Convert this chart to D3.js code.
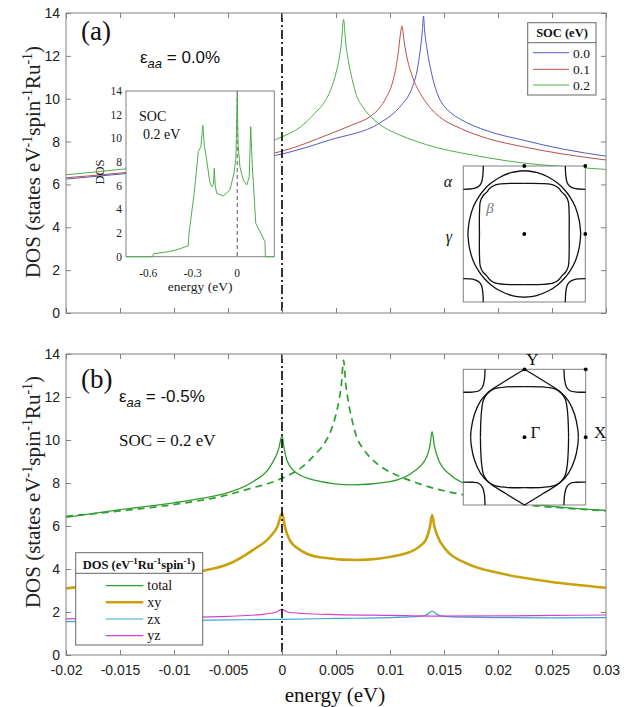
<!DOCTYPE html>
<html><head><meta charset="utf-8">
<script src="https://cdn.jsdelivr.net/npm/d3@7"></script>
<style>body{margin:0;background:#fff}</style>
</head><body><svg id="c" width="635" height="707"></svg>
<script>
// ---------------- data ----------------
const energyTicks = [-0.02,-0.015,-0.01,-0.005,0,0.005,0.01,0.015,0.02,0.025,0.03];
const energyTickLabels = ["-0.02","-0.015","-0.01","-0.005","0","0.005","0.01","0.015","0.02","0.025","0.03"];
const dosTicks = [0,2,4,6,8,10,12,14];
const socLegend = ["0.0","0.1","0.2"];
const orbitalLegend = ["total","xy","zx","yz"];
const insetTicks = [-0.6,-0.3,0];
const insetTickLabels = ["-0.6","-0.3","0"];

// panel (a): DOS vs energy for SOC = 0.0, 0.1, 0.2 eV (unstrained)
const soc00 = [[-0.02,6.25],[-0.015,6.48],[-0.01,6.72],[-0.005,7.02],[0,7.42],[0.0044,8.07],[0.0091,8.88],[0.0105,9.4],[0.0112,9.79],[0.0118,10.22],[0.0122,10.72],[0.0125,11.3],[0.0128,12.27],[0.013,13.2],[0.0131,13.86],[0.0132,13.2],[0.0134,12.4],[0.0138,11.3],[0.0143,10.35],[0.0148,9.8],[0.0155,9.4],[0.0165,9.05],[0.019,8.5],[0.0223,8.07],[0.026,7.65],[0.03,7.32]];
const soc01 = [[-0.02,6.31],[-0.015,6.53],[-0.01,6.8],[-0.005,7.12],[0,7.55],[0.0044,8.35],[0.0065,8.78],[0.0082,9.18],[0.009,9.55],[0.0097,10.1],[0.0102,10.7],[0.0106,11.6],[0.0108,12.3],[0.011,13.15],[0.0111,13.4],[0.0113,12.7],[0.0115,12.1],[0.0121,11.0],[0.0128,10.25],[0.0136,9.65],[0.0146,9.15],[0.0165,8.62],[0.019,8.15],[0.0223,7.76],[0.026,7.42],[0.03,7.14]];
const soc02 = [[-0.02,6.45],[-0.015,6.7],[-0.01,7.0],[-0.005,7.45],[-0.0027,7.78],[-0.001,8.02],[0,8.22],[0.0017,8.68],[0.003,9.3],[0.004,9.9],[0.0045,10.4],[0.005,11.2],[0.0053,11.9],[0.0055,12.6],[0.0057,13.7],[0.0059,12.6],[0.0061,11.9],[0.0065,10.9],[0.0069,10.15],[0.0075,9.6],[0.0083,9.12],[0.0095,8.65],[0.0107,8.35],[0.0125,8.0],[0.0143,7.72],[0.0165,7.48],[0.019,7.25],[0.0223,7.0],[0.026,6.84],[0.03,6.7]];

// inset of (a): wide-range DOS, SOC 0.2 eV
const insetDos = [[-0.75,0],[-0.57,0],[-0.565,0.25],[-0.45,0.45],[-0.38,0.7],[-0.33,0.93],[-0.325,1.97],[-0.29,5.4],[-0.262,8.9],[-0.245,9.3],[-0.232,11.1],[-0.222,9.4],[-0.206,8.17],[-0.185,6.3],[-0.172,5.92],[-0.16,6.1],[-0.155,7.47],[-0.148,6.0],[-0.139,5.36],[-0.094,5.13],[-0.049,5.64],[-0.022,7.05],[-0.009,8.32],[0,13.67],[0.006,9.5],[0.018,7.6],[0.041,6.48],[0.064,6.06],[0.081,6.76],[0.091,10.99],[0.102,7.6],[0.125,2.82],[0.154,2.11],[0.187,1.27],[0.19,0],[0.25,0]];

// panel (b): strain -0.5 %, SOC 0.2 eV
const total = [[-0.02,6.4],[-0.015,6.76],[-0.01,7.08],[-0.0075,7.28],[-0.005,7.55],[-0.0027,8.06],[-0.0011,8.76],[-0.0003,9.6],[0,10.2],[0.0002,9.6],[0.0005,9.0],[0.0014,8.45],[0.0032,8.11],[0.0066,7.91],[0.01,8.06],[0.0122,8.53],[0.0134,9.22],[0.0137,9.75],[0.0139,10.39],[0.0141,9.75],[0.0145,9.07],[0.0156,8.37],[0.0168,7.99],[0.019,7.55],[0.021,7.25],[0.023,7.03],[0.026,6.87],[0.03,6.72]];
const xy = [[-0.02,3.1],[-0.015,3.38],[-0.01,3.68],[-0.0073,3.92],[-0.005,4.22],[-0.0027,4.88],[-0.0011,5.5],[-0.0004,6.0],[0,6.59],[0.0003,5.9],[0.0007,5.35],[0.0017,4.88],[0.0035,4.55],[0.0069,4.42],[0.0109,4.65],[0.0131,5.2],[0.0137,5.97],[0.0139,6.51],[0.0141,6.0],[0.0143,5.66],[0.0152,4.88],[0.0171,4.26],[0.0202,3.8],[0.0248,3.41],[0.03,3.13]];
const zx = [[-0.02,1.55],[-0.01,1.6],[-0.005,1.63],[0,1.66],[0.005,1.7],[0.01,1.74],[0.0128,1.8],[0.0135,1.9],[0.0139,2.04],[0.0143,1.9],[0.015,1.8],[0.017,1.76],[0.02,1.74],[0.025,1.73],[0.03,1.74]];
const yz = [[-0.02,1.68],[-0.01,1.74],[-0.005,1.8],[-0.002,1.88],[-0.0005,2.0],[0,2.12],[0.0005,2.0],[0.002,1.93],[0.005,1.88],[0.01,1.84],[0.0139,1.81],[0.02,1.82],[0.025,1.84],[0.03,1.86]];

// Fermi-surface sheets (one quadrant, k in units of the zone half-width)
const fsA_gamma = [[0,0.93],[-0.2,0.905],[-0.4,0.835],[-0.55,0.745],[-0.655,0.655],[-0.745,0.55],[-0.835,0.4],[-0.9,0.2],[-0.925,0]];
const fsA_beta  = [[0,0.745],[-0.3,0.742],[-0.48,0.72],[-0.57,0.67],[-0.615,0.615],[-0.67,0.57],[-0.72,0.48],[-0.735,0.3],[-0.735,0]];
const fsA_alpha = [[-0.672,1],[-0.68,0.86],[-0.7,0.76],[-0.74,0.705],[-0.82,0.67],[-1,0.657]];
const fsB_gamma = [[0,1],[-0.3,0.835],[-0.583,0.67],[-0.72,0.53],[-0.82,0.33],[-0.87,0.12],[-0.88,0]];
const fsB_beta  = [[0,0.745],[-0.3,0.74],[-0.5,0.71],[-0.61,0.64],[-0.67,0.55],[-0.7,0.4],[-0.715,0.2],[-0.72,0]];
const fsB_alpha = [[-0.645,1],[-0.655,0.85],[-0.686,0.74],[-0.75,0.68],[-0.85,0.665],[-1,0.662]];

// ---------------- drawing ----------------
const serif = "'Liberation Serif','Times New Roman',serif";
const sans = "'Liberation Sans',Arial,sans-serif";
const axisCol = "#808080";
const svg = d3.select("#c");
const defs = svg.append("defs");

const x = d3.scaleLinear().domain([-0.02,0.03]).range([66,606]);
const yA = d3.scaleLinear().domain([0,14]).range([313,13]);
const yB = d3.scaleLinear().domain([0,14]).range([655,354]);

function clip(id, y){
  defs.append("clipPath").attr("id",id).append("rect")
    .attr("x",x.range()[0]).attr("y",y.range()[1])
    .attr("width",x.range()[1]-x.range()[0]).attr("height",y.range()[0]-y.range()[1]);
}
clip("clipA", yA); clip("clipB", yB);

function styleAxis(g){
  g.select(".domain").remove();
  g.selectAll("line").attr("stroke",axisCol);
  g.selectAll("text").attr("font-family",sans).attr("font-size",14).attr("fill","#222");
}
function frame(y, showX){
  const top = y.range()[1], bot = y.range()[0];
  svg.append("g").attr("transform","translate(66,0)")
    .call(d3.axisLeft(y).tickValues(dosTicks).tickSize(-5).tickPadding(6).tickFormat(d3.format("d"))).call(styleAxis);
  svg.append("g").attr("transform","translate(606,0)")
    .call(d3.axisRight(y).tickValues(dosTicks).tickSize(-5).tickFormat("")).call(styleAxis);
  svg.append("g").attr("transform",`translate(0,${bot})`)
    .call(d3.axisBottom(x).tickValues(energyTicks).tickSize(-5).tickPadding(10)
      .tickFormat((d,i)=> showX ? energyTickLabels[i] : "")).call(styleAxis);
  svg.append("g").attr("transform",`translate(0,${top})`)
    .call(d3.axisTop(x).tickValues(energyTicks).tickSize(-5).tickFormat("")).call(styleAxis);
  svg.append("rect").attr("x",66).attr("y",top).attr("width",540).attr("height",bot-top)
    .attr("fill","none").attr("stroke",axisCol).attr("stroke-width",1);
}
function curve(y, data, clipId, col, w, dash){
  const line = d3.line().x(d=>x(d[0])).y(d=>y(d[1])).curve(d3.curveMonotoneX);
  const p = svg.append("path").attr("d",line(data)).attr("fill","none")
    .attr("stroke",col).attr("stroke-width",w).attr("clip-path",`url(#${clipId})`)
    .attr("stroke-linejoin","round");
  if(dash) p.attr("stroke-dasharray",dash);
  return p;
}
function fermiLine(y){
  svg.append("line").attr("x1",x(0)).attr("x2",x(0)).attr("y1",y(14)).attr("y2",y(0))
    .attr("stroke","#000").attr("stroke-width",1.6).attr("stroke-dasharray","9,3,2,3");
}
function yTitle(cy){
  const t = svg.append("text").attr("transform",`translate(40,${cy}) rotate(-90)`)
    .attr("text-anchor","middle").attr("font-family",serif).attr("font-size",21).attr("fill","#222");
  t.append("tspan").text("DOS (states eV");
  t.append("tspan").attr("dy",-8).attr("font-size",14).text("-1");
  t.append("tspan").attr("dy",8).text("spin");
  t.append("tspan").attr("dy",-8).attr("font-size",14).text("-1");
  t.append("tspan").attr("dy",8).text("Ru");
  t.append("tspan").attr("dy",-8).attr("font-size",14).text("-1");
  t.append("tspan").attr("dy",8).text(")");
}
function epsText(xp, yp, val){
  const t = svg.append("text").attr("x",xp).attr("y",yp).attr("font-family",sans).attr("font-size",17).attr("fill","#111");
  t.append("tspan").text("ε");
  t.append("tspan").attr("dy",5).attr("font-size",13).attr("font-style","italic").text("aa");
  t.append("tspan").attr("dy",-5).text(" = " + val);
}
function fermiSurface(fx, fy, sheets, dots){
  svg.append("rect").attr("x",fx(-1)).attr("y",fy(1)).attr("width",fx(1)-fx(-1)).attr("height",fy(-1)-fy(1))
    .attr("fill","#fff").attr("stroke",axisCol).attr("stroke-width",1);
  const line = d3.line().x(d=>fx(d[0])).y(d=>fy(d[1])).curve(d3.curveCatmullRom.alpha(0.5));
  sheets.forEach(pts=>{
    [[1,1],[-1,1],[-1,-1],[1,-1]].forEach(([sx,sy])=>{
      const q = pts.map(([a,b])=>[-sx*a, sy*b]);
      svg.append("path").attr("d",line(q)).attr("fill","none").attr("stroke","#111").attr("stroke-width",1.3);
    });
  });
  dots.forEach(([a,b])=> svg.append("circle").attr("cx",fx(a)).attr("cy",fy(b)).attr("r",1.9).attr("fill","#000"));
}

// ======= Panel (a) =======
curve(yA, soc00, "clipA", "#5459c4", 1);
curve(yA, soc01, "clipA", "#b84f4e", 1);
curve(yA, soc02, "clipA", "#4daf4a", 1);
fermiLine(yA);
frame(yA, false);

svg.append("text").attr("x",81).attr("y",40).attr("font-family",serif).attr("font-size",27).attr("fill","#111").text("(a)");
epsText(140, 63, "0.0%");

// inset DOS
const xi = d3.scaleLinear().domain([-0.75,0.25]).range([126,274.3]);
const yi = d3.scaleLinear().domain([0,14]).range([256.7,91]);
svg.append("rect").attr("x",xi(-0.75)).attr("y",yi(14)).attr("width",xi(0.25)-xi(-0.75)).attr("height",yi(0)-yi(14))
  .attr("fill","#fff").attr("stroke",axisCol);
svg.append("line").attr("x1",xi(0)).attr("x2",xi(0)).attr("y1",yi(14)).attr("y2",yi(0))
  .attr("stroke","#555").attr("stroke-width",1).attr("stroke-dasharray","4,3");
svg.append("path").attr("d", d3.line().x(d=>xi(d[0])).y(d=>yi(d[1]))(insetDos))
  .attr("fill","none").attr("stroke","#4daf4a").attr("stroke-width",1);
dosTicks.forEach(v=>{
  svg.append("text").attr("x",122).attr("y",yi(v)).attr("dy","0.35em").attr("text-anchor","end")
    .attr("font-family",serif).attr("font-size",11.5).attr("fill","#222").text(v);
});
insetTicks.forEach((v,i)=>{
  svg.append("text").attr("x",xi(v)).attr("y",277).attr("text-anchor","middle")
    .attr("font-family",serif).attr("font-size",11.5).attr("fill","#222").text(insetTickLabels[i]);
});
svg.append("text").attr("x",xi(-0.25)).attr("y",291).attr("text-anchor","middle")
  .attr("font-family",serif).attr("font-size",13.5).attr("fill","#222").text("energy (eV)");
svg.append("text").attr("transform","translate(104,172) rotate(-90)").attr("text-anchor","middle")
  .attr("font-family",serif).attr("font-size",12.5).attr("fill","#222").text("DOS");
svg.append("text").attr("x",139).attr("y",121).attr("font-family",serif).attr("font-size",14).attr("fill","#111").text("SOC");
svg.append("text").attr("x",143).attr("y",138.5).attr("font-family",serif).attr("font-size",14).attr("fill","#111").text("0.2 eV");

// legend (a)
svg.append("rect").attr("x",527.7).attr("y",22.7).attr("width",68.3).attr("height",72.3).attr("fill","#fff").attr("stroke","#666");
svg.append("line").attr("x1",527.7).attr("x2",596).attr("y1",42.7).attr("y2",42.7).attr("stroke","#666");
svg.append("text").attr("x",562).attr("y",37).attr("text-anchor","middle").attr("font-family",serif)
  .attr("font-weight","bold").attr("font-size",12.5).attr("fill","#111").text("SOC (eV)");
const socCols = ["#5459c4","#b84f4e","#4daf4a"];
const socY = [52.7,69.3,85];
socLegend.forEach((s,i)=>{
  svg.append("line").attr("x1",533).attr("x2",569).attr("y1",socY[i]).attr("y2",socY[i]).attr("stroke",socCols[i]).attr("stroke-width",1);
  svg.append("text").attr("x",573).attr("y",socY[i]+5).attr("font-family",serif).attr("font-size",13.5).attr("fill","#111").text(s);
});

// FS (a)
const fxA = d3.scaleLinear().domain([-1,1]).range([463.3,585.3]);
const fyA = d3.scaleLinear().domain([-1,1]).range([302,166]);
fermiSurface(fxA, fyA, [fsA_gamma, fsA_beta, fsA_alpha], [[0,0],[1,0],[0,1],[1,1]]);
svg.append("text").attr("x",448).attr("y",187).attr("text-anchor","middle").attr("font-family",serif).attr("font-style","italic").attr("font-size",16).attr("fill","#111").text("α");
svg.append("text").attr("x",449).attr("y",242).attr("text-anchor","middle").attr("font-family",serif).attr("font-style","italic").attr("font-size",16).attr("fill","#111").text("γ");
svg.append("text").attr("x",490).attr("y",213).attr("text-anchor","middle").attr("font-family",serif).attr("font-style","italic").attr("font-size",15).attr("fill","#777").text("β");

// ======= Panel (b) =======
curve(yB, total, "clipB", "#2e9e2e", 1.3);
curve(yB, soc02, "clipB", "#2e9e2e", 1.7, "7,5");
curve(yB, xy, "clipB", "#c9a10c", 2.6);
curve(yB, zx, "clipB", "#3aa6dc", 1.2);
curve(yB, yz, "clipB", "#d63fc9", 1.2);
fermiLine(yB);
frame(yB, true);

svg.append("text").attr("x",81).attr("y",388).attr("font-family",serif).attr("font-size",27).attr("fill","#111").text("(b)");
epsText(119, 402, "-0.5%");
svg.append("text").attr("x",119).attr("y",446).attr("font-family",serif).attr("font-size",17).attr("fill","#111").text("SOC = 0.2 eV");

// FS (b)
const fxB = d3.scaleLinear().domain([-1,1]).range([463.3,585.7]);
const fyB = d3.scaleLinear().domain([-1,1]).range([505,369.3]);
fermiSurface(fxB, fyB, [fsB_gamma, fsB_beta, fsB_alpha], [[0,0],[1,0],[0,1],[1,1]]);
svg.append("text").attr("x",fxB(0)+8).attr("y",365).attr("text-anchor","middle").attr("font-family",serif).attr("font-size",17).attr("fill","#111").text("Y");
svg.append("text").attr("x",fxB(0)+6).attr("y",438).attr("font-family",serif).attr("font-size",17).attr("fill","#111").text("Γ");
svg.append("text").attr("x",594).attr("y",438).attr("font-family",serif).attr("font-size",17).attr("fill","#111").text("X");

// legend (b)
svg.append("rect").attr("x",75.7).attr("y",552.7).attr("width",127).attr("height",92.3).attr("fill","#fff").attr("stroke","#666");
svg.append("line").attr("x1",75.7).attr("x2",202.7).attr("y1",573.3).attr("y2",573.3).attr("stroke","#666");
{
  const t = svg.append("text").attr("x",139).attr("y",569).attr("text-anchor","middle").attr("font-family",serif)
    .attr("font-weight","bold").attr("font-size",12.5).attr("fill","#111");
  t.append("tspan").text("DOS (eV");
  t.append("tspan").attr("dy",-5).attr("font-size",9).text("-1");
  t.append("tspan").attr("dy",5).text("Ru");
  t.append("tspan").attr("dy",-5).attr("font-size",9).text("-1");
  t.append("tspan").attr("dy",5).text("spin");
  t.append("tspan").attr("dy",-5).attr("font-size",9).text("-1");
  t.append("tspan").attr("dy",5).text(")");
}
const orbCols = ["#2e9e2e","#c9a10c","#3aa6dc","#d63fc9"];
const orbW = [1.3,2.6,1.2,1.2];
const orbY = [585.7,602.3,619,635.7];
orbitalLegend.forEach((s,i)=>{
  svg.append("line").attr("x1",105.7).attr("x2",143.3).attr("y1",orbY[i]).attr("y2",orbY[i]).attr("stroke",orbCols[i]).attr("stroke-width",orbW[i]);
  svg.append("text").attr("x",147.3).attr("y",orbY[i]+4.5).attr("font-family",serif).attr("font-size",14).attr("fill","#111").text(s);
});

// axis titles
yTitle(162);
yTitle(492);
svg.append("text").attr("x",335).attr("y",702).attr("text-anchor","middle").attr("font-family",serif).attr("font-size",21).attr("fill","#111").text("energy (eV)");
</script></body></html>
